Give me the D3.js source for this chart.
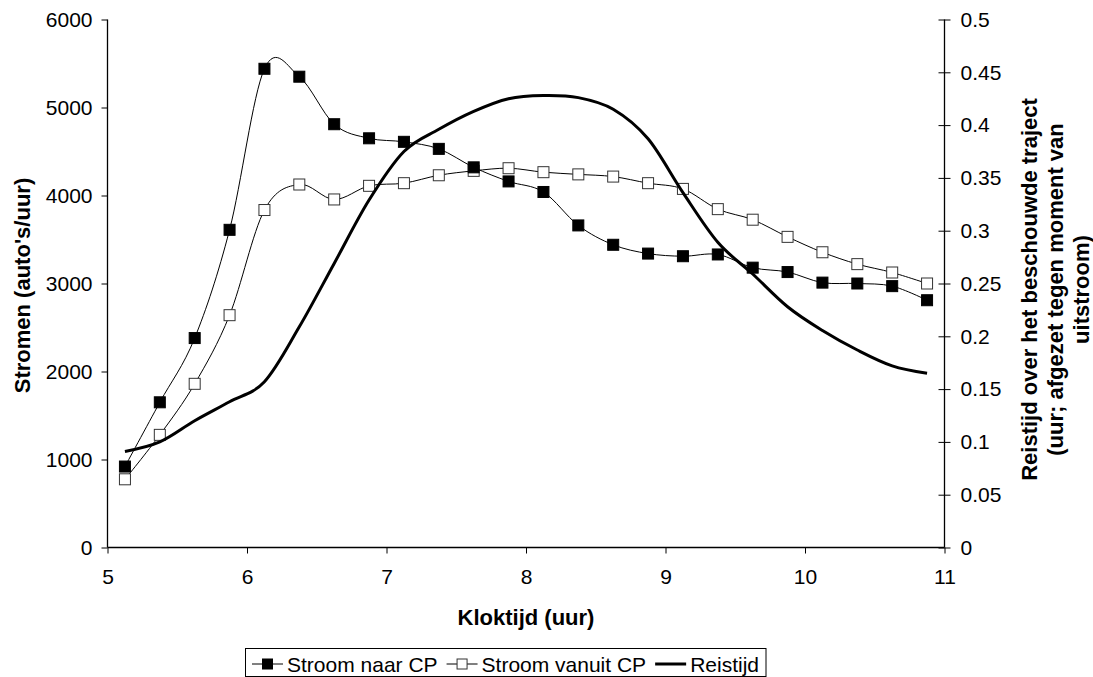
<!DOCTYPE html>
<html>
<head>
<meta charset="utf-8">
<script src="https://cdn.jsdelivr.net/npm/d3@7"></script>
<style>
  html, body { margin: 0; padding: 0; background: #fff; }
  text { font-family: "Liberation Sans", Arial, sans-serif; }
</style>
</head>
<body>
<svg id="chart" width="1093" height="677"></svg>
<script>
// ---- data ----
const times = [5.125, 5.375, 5.625, 5.875, 6.125, 6.375, 6.625, 6.875, 7.125, 7.375, 7.625, 7.875,
               8.125, 8.375, 8.625, 8.875, 9.125, 9.375, 9.625, 9.875, 10.125, 10.375, 10.625, 10.875];
const stroomNaarCP = [920, 1650, 2380, 3610, 5440, 5350, 4810, 4650, 4610, 4530, 4320, 4160,
                      4040, 3660, 3440, 3340, 3310, 3330, 3180, 3130, 3010, 3000, 2970, 2810];
const stroomVanuitCP = [775, 1280, 1860, 2640, 3835, 4125, 3955, 4110, 4140, 4230, 4280, 4310,
                        4265, 4240, 4215, 4140, 4075, 3845, 3725, 3530, 3355, 3220, 3125, 3000];
const reistijd = [0.091, 0.100, 0.120, 0.138, 0.157, 0.209, 0.269, 0.329, 0.375, 0.396, 0.413, 0.425,
                  0.428, 0.426, 0.415, 0.387, 0.336, 0.289, 0.259, 0.228, 0.2055, 0.187, 0.172, 0.165];
const xTicks = [5, 6, 7, 8, 9, 10, 11];
const yLeftTicks = [0, 1000, 2000, 3000, 4000, 5000, 6000];
const yRightTicks = [0, 0.05, 0.1, 0.15, 0.2, 0.25, 0.3, 0.35, 0.4, 0.45, 0.5];
const seriesNames = ["Stroom naar CP", "Stroom vanuit CP", "Reistijd"];
const xTitle = "Kloktijd (uur)";
const yLeftTitle = "Stromen (auto's/uur)";
const yRightTitle = ["Reistijd over het beschouwde traject", "(uur; afgezet tegen moment van", "uitstroom)"];

// ---- layout ----
const svg = d3.select("#chart");
const L = 107.5, R = 944.5, T = 19.5, B = 547.5;
const FS = 21, TFS = 22;

const x = d3.scaleLinear().domain([5, 11]).range([L, R]);
const yL = d3.scaleLinear().domain([0, 6000]).range([B, T]);
const yR = d3.scaleLinear().domain([0, 0.5]).range([B, T]);

// axes
const axL = svg.append("g").attr("transform", `translate(${L},0)`)
  .call(d3.axisLeft(yL).tickValues(yLeftTicks).tickSize(6).tickPadding(9).tickFormat(d3.format("d")));
const axR = svg.append("g").attr("transform", `translate(${R},0)`)
  .call(d3.axisRight(yR).tickValues(yRightTicks).tickSize(6).tickPadding(10).tickFormat(d => String(d)));
axR.selectAll(".tick line").attr("x1", -6);
const axB = svg.append("g").attr("transform", `translate(0,${B})`)
  .call(d3.axisBottom(x).tickValues(xTicks).tickSize(6).tickPadding(16).tickFormat(d3.format("d")));
[axL, axR, axB].forEach(g => {
  g.select(".domain").attr("stroke", "#000").attr("stroke-width", 1.3);
  g.selectAll(".tick line").attr("stroke", "#000").attr("stroke-width", 1);
  g.selectAll("text").attr("fill", "#000").style("font-size", FS + "px")
    .style("font-family", "'Liberation Sans', Arial, sans-serif");
});
axL.select(".domain").attr("d", `M0,${T}V${B}`);
axR.select(".domain").attr("d", `M0,${T}V${B}`);
axB.select(".domain").attr("d", `M${L},0H${R}`);

// titles
svg.append("text").attr("x", (L + R) / 2).attr("y", 625).attr("text-anchor", "middle")
  .style("font-size", TFS + "px").style("font-weight", "bold").text(xTitle);
svg.append("text").attr("transform", `translate(29.5,${(T + B) / 2 + 2}) rotate(-90)`)
  .attr("text-anchor", "middle").style("font-size", TFS + "px").style("font-weight", "bold").text(yLeftTitle);
const rt = svg.append("text").attr("transform", `translate(1037,${(T + B) / 2 + 6}) rotate(-90)`)
  .attr("text-anchor", "middle").style("font-size", TFS + "px").style("font-weight", "bold");
yRightTitle.forEach((s, i) => rt.append("tspan").attr("x", 0).attr("dy", i === 0 ? 0 : 26).text(s));

// lines
const ptsN = times.map((t, i) => [t, stroomNaarCP[i]]);
const ptsV = times.map((t, i) => [t, stroomVanuitCP[i]]);
const ptsR = times.map((t, i) => [t, reistijd[i]]);
const curve = d3.curveCatmullRom.alpha(0);
const lineL = d3.line().x(d => x(d[0])).y(d => yL(d[1])).curve(curve);
const lineR = d3.line().x(d => x(d[0])).y(d => yR(d[1])).curve(curve);

const sq = 11;
svg.append("path").attr("d", lineL(ptsV)).attr("fill", "none").attr("stroke", "#000").attr("stroke-width", 1);
svg.append("g").selectAll("rect").data(ptsV).join("rect")
  .attr("x", d => x(d[0]) - sq / 2).attr("y", d => yL(d[1]) - sq / 2)
  .attr("width", sq).attr("height", sq).attr("fill", "#fff").attr("stroke", "#333").attr("stroke-width", 1);

svg.append("path").attr("d", lineL(ptsN)).attr("fill", "none").attr("stroke", "#000").attr("stroke-width", 1);
svg.append("g").selectAll("rect").data(ptsN).join("rect")
  .attr("x", d => x(d[0]) - sq / 2).attr("y", d => yL(d[1]) - sq / 2)
  .attr("width", sq).attr("height", sq).attr("fill", "#000").attr("stroke", "#000").attr("stroke-width", 1);

svg.append("path").attr("d", lineR(ptsR)).attr("fill", "none").attr("stroke", "#000").attr("stroke-width", 3);

// legend
const lg = svg.append("g");
const box = lg.append("rect").attr("x", 245.5).attr("y", 648.5).attr("height", 28).attr("fill", "#fff")
  .attr("stroke", "#000").attr("stroke-width", 1);
let cx = 252;
const ly = 664;
seriesNames.forEach((name, i) => {
  lg.append("line").attr("x1", cx).attr("x2", cx + 31).attr("y1", ly).attr("y2", ly)
    .attr("stroke", "#000").attr("stroke-width", i === 2 ? 3 : 1);
  if (i < 2) {
    lg.append("rect").attr("x", cx + 15.5 - 5).attr("y", ly - 5).attr("width", 10).attr("height", 10)
      .attr("fill", i === 0 ? "#000" : "#fff").attr("stroke", i === 0 ? "#000" : "#333");
  }
  const t = lg.append("text").attr("x", cx + 35).attr("y", ly + 7.5).style("font-size", FS + "px").text(name);
  cx = cx + 35 + t.node().getComputedTextLength() + 9;
});
box.attr("width", cx - 245.5 - 2);
</script>
</body>
</html>
